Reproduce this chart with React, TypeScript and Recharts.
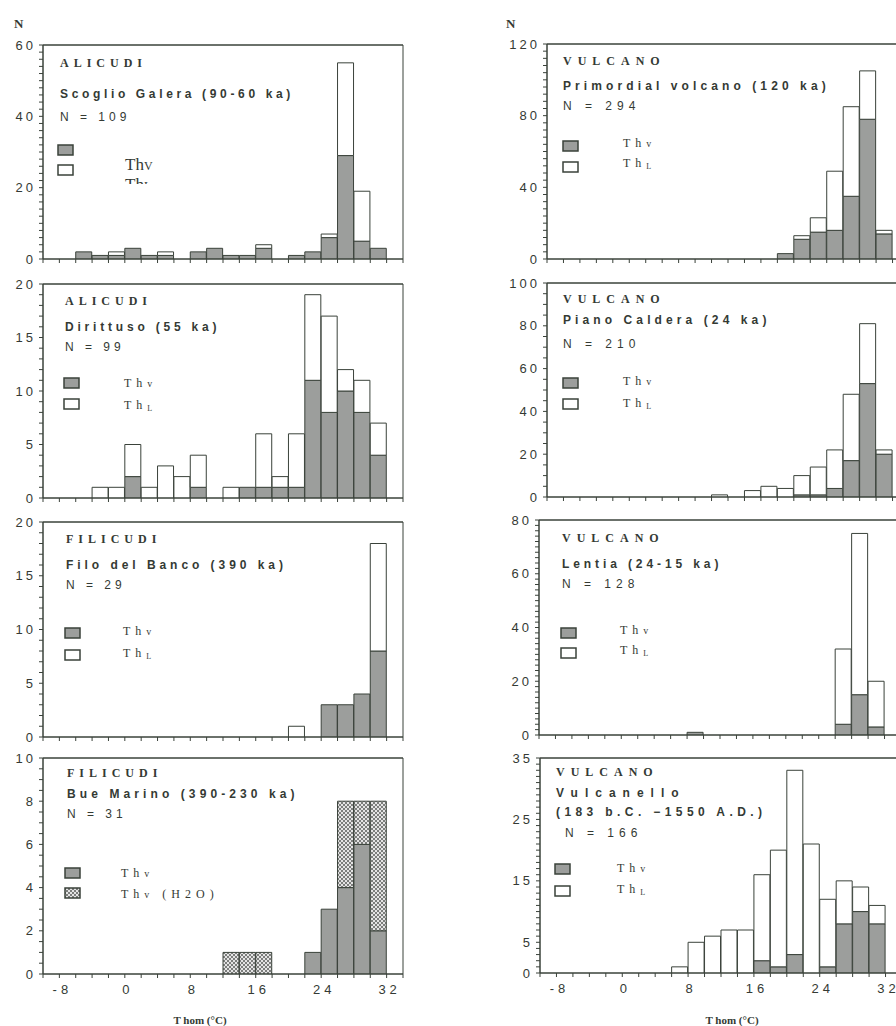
import React from "react";
import { BarChart, Bar, XAxis, YAxis, ReferenceArea } from "recharts";

// bin starts (°C), each bin is 2 °C wide
const bins = [-10, -8, -6, -4, -2, 0, 2, 4, 6, 8, 10, 12, 14, 16, 18, 20, 22, 24, 26, 28, 30, 32];

// ALICUDI - Scoglio Galera
const galeraThv = [0, 0, 2, 1, 1, 3, 1, 1, 0, 2, 3, 1, 1, 3, 0, 1, 2, 6, 29, 5, 3, 0];
const galeraThl = [0, 0, 0, 0, 1, 0, 0, 1, 0, 0, 0, 0, 0, 1, 0, 0, 0, 1, 26, 14, 0, 0];
// ALICUDI - Dirittuso
const dirittusoThv = [0, 0, 0, 0, 0, 2, 0, 0, 0, 1, 0, 0, 1, 1, 1, 1, 11, 8, 10, 8, 4, 0];
const dirittusoThl = [0, 0, 0, 1, 1, 3, 1, 3, 2, 3, 0, 1, 0, 5, 1, 5, 8, 9, 2, 3, 3, 0];
// FILICUDI - Filo del Banco
const filoThv = [0, 0, 0, 0, 0, 0, 0, 0, 0, 0, 0, 0, 0, 0, 0, 0, 0, 3, 3, 4, 8, 0];
const filoThl = [0, 0, 0, 0, 0, 0, 0, 0, 0, 0, 0, 0, 0, 0, 0, 1, 0, 0, 0, 0, 10, 0];
// FILICUDI - Bue Marino
const bueThv = [0, 0, 0, 0, 0, 0, 0, 0, 0, 0, 0, 0, 0, 0, 0, 0, 1, 3, 4, 6, 2, 0];
const bueH2o = [0, 0, 0, 0, 0, 0, 0, 0, 0, 0, 0, 1, 1, 1, 0, 0, 0, 0, 4, 2, 6, 0];
// VULCANO - Primordial volcano
const primThv = [0, 0, 0, 0, 0, 0, 0, 0, 0, 0, 0, 0, 0, 0, 3, 11, 15, 16, 35, 78, 14, 0];
const primThl = [0, 0, 0, 0, 0, 0, 0, 0, 0, 0, 0, 0, 0, 0, 0, 2, 8, 33, 50, 27, 2, 0];
// VULCANO - Piano Caldera
const pianoThv = [0, 0, 0, 0, 0, 0, 0, 0, 0, 0, 0, 0, 0, 0, 0, 1, 1, 4, 17, 53, 20, 0];
const pianoThl = [0, 0, 0, 0, 0, 0, 0, 0, 0, 0, 1, 0, 3, 5, 4, 9, 13, 18, 31, 28, 2, 0];
// VULCANO - Lentia
const lentiaThv = [0, 0, 0, 0, 0, 0, 0, 0, 0, 1, 0, 0, 0, 0, 0, 0, 0, 0, 4, 15, 3, 0];
const lentiaThl = [0, 0, 0, 0, 0, 0, 0, 0, 0, 0, 0, 0, 0, 0, 0, 0, 0, 0, 28, 60, 17, 0];
// VULCANO - Vulcanello
const vulcanelloThv = [0, 0, 0, 0, 0, 0, 0, 0, 0, 0, 0, 0, 0, 2, 1, 3, 0, 1, 8, 10, 8, 0];
const vulcanelloThl = [0, 0, 0, 0, 0, 0, 0, 0, 1, 5, 6, 7, 7, 14, 19, 30, 21, 11, 7, 4, 3, 0];

// tick labels
const xTickLabels = [-8, 0, 8, 16, 24, 32];
const yLabelsGalera = [0, 20, 40, 60];
const yLabels20 = [0, 5, 10, 15, 20];
const yLabelsBue = [0, 2, 4, 6, 8, 10];
const yLabelsPrim = [0, 40, 80, 120];
const yLabelsPiano = [0, 20, 40, 60, 80, 100];
const yLabelsLentia = [0, 20, 40, 60, 80];
const yLabelsVulcanello = [0, 5, 15, 25, 35];

const INK = "#3a423a";
const TXT = "#343a34";
const GRAY = "#9c9e9c";
const SERIF = "'Liberation Serif', 'Times New Roman', serif";
const SANS = "'Liberation Sans', Arial, sans-serif";

function steps(from: number, to: number, step: number) {
  const out: number[] = [];
  for (let v = from; v <= to + 1e-9; v += step) out.push(+v.toFixed(2));
  return out;
}

const xMinor = steps(-10, 34, 2);

function YTick(props: any) {
  const { x, y, payload, labels } = props;
  if (!labels.includes(payload.value)) return <g />;
  return (
    <text x={x + 1} y={y} dy={4.5} textAnchor="end" fontFamily={SANS} fontSize={13}
      fill={TXT} style={{ letterSpacing: 3 }}>
      {payload.value}
    </text>
  );
}

function XTick(props: any) {
  const { x, y, payload, labels } = props;
  if (!labels.includes(payload.value)) return <g />;
  return (
    <text x={x + 3} y={y} dy={11} textAnchor="middle" fontFamily={SANS} fontSize={13}
      fill={TXT} style={{ letterSpacing: 4 }}>
      {payload.value}
    </text>
  );
}

type PanelProps = {
  px: number; py: number; pw: number; ph: number;
  yMax: number; yStep: number; yLabels: number[];
  lower: number[]; upper: number[]; upperFill: string;
  showX: boolean;
};

function Panel(p: PanelProps) {
  const data = bins.map((b, i) => ({ bin: b, mid: b + 1, lower: p.lower[i], upper: p.upper[i] }));
  return (
    <div style={{ position: "absolute", left: p.px - 40, top: p.py - 10 }}>
      <BarChart width={40 + p.pw + 10} height={10 + p.ph + 30} data={data}
        margin={{ top: 5, right: 10, left: 0, bottom: 0 }} barCategoryGap={0} barGap={0}>
        <XAxis xAxisId="cat" dataKey="bin" type="category" hide height={0} />
        <XAxis xAxisId="num" dataKey="mid" type="number" domain={[-10, 34]} allowDataOverflow
          ticks={xMinor} interval={0} height={30} tickSize={4} tickMargin={5} stroke={INK}
          tick={<XTick labels={p.showX ? xTickLabels : []} />} />
        <XAxis xAxisId="top" dataKey="mid" orientation="top" type="number" domain={[-10, 34]}
          allowDataOverflow ticks={xMinor} interval={0} height={5} tick={false} tickSize={4}
          stroke={INK} />
        <YAxis type="number" domain={[0, p.yMax]} allowDataOverflow ticks={steps(0, p.yMax, p.yStep)}
          interval={0} width={40} tickSize={4} tickMargin={4} stroke={INK}
          tick={<YTick labels={p.yLabels} />} />
        <ReferenceArea xAxisId="num" x1={-10} x2={34} y1={0} y2={p.yMax}
          fill="none" stroke={INK} strokeWidth={1} ifOverflow="visible" />
        <Bar xAxisId="cat" dataKey="lower" stackId="s" fill={GRAY} stroke={INK} isAnimationActive={false} />
        <Bar xAxisId="cat" dataKey="upper" stackId="s" fill={p.upperFill} stroke={INK} isAnimationActive={false} />
      </BarChart>
    </div>
  );
}

function Title({ x, y, island, is = 5, lines, ls, n, nx, ns = 4 }: any) {
  return (
    <g fill={TXT}>
      <text x={x} y={y[0]} fontFamily={SERIF} fontWeight="bold" fontSize={12} style={{ letterSpacing: is }}>{island}</text>
      {lines.map((l: string, i: number) => (
        <text key={i} x={x} y={y[1 + i]} fontFamily={SANS} fontWeight="bold" fontSize={12} style={{ letterSpacing: ls[i] }}>{l}</text>
      ))}
      <text x={nx ?? x} y={y[y.length - 1]} fontFamily={SANS} fontSize={12} style={{ letterSpacing: ns }}>{n}</text>
    </g>
  );
}

function Key({ sx, d, l, tx, dy, ly, second }: any) {
  return (
    <g>
      <rect x={sx} y={d} width={15} height={10} fill={GRAY} stroke={INK} strokeWidth={1.5} />
      <rect x={sx} y={l} width={15} height={10} fill={second === "h2o" ? "url(#h2o)" : "#fff"} stroke={INK} strokeWidth={1.5} />
      <text x={tx} y={dy} fontFamily={SERIF} fontSize={12} fill={TXT} style={{ letterSpacing: 5 }}>
        Th<tspan fontSize={10}>v</tspan>
      </text>
      <text x={tx} y={ly} fontFamily={SERIF} fontSize={12} fill={TXT} style={{ letterSpacing: 5 }}>
        {second === "h2o" ? <>Th<tspan fontSize={10}>v</tspan> (H2O)</> : <>Th<tspan fontSize={8} dy={2}>L</tspan></>}
      </text>
    </g>
  );
}

export default function App() {
  return (
    <div style={{ position: "absolute", left: 0, top: 0, width: 896, height: 1026, overflow: "hidden", background: "#fff" }}>
      <Panel px={43} py={45} pw={360} ph={214} yMax={60} yStep={2} yLabels={yLabelsGalera}
        lower={galeraThv} upper={galeraThl} upperFill="#fff" showX={false} />
      <Panel px={43} py={284} pw={360} ph={214} yMax={20} yStep={1} yLabels={yLabels20}
        lower={dirittusoThv} upper={dirittusoThl} upperFill="#fff" showX={false} />
      <Panel px={43} py={522} pw={360} ph={215} yMax={20} yStep={1} yLabels={yLabels20}
        lower={filoThv} upper={filoThl} upperFill="#fff" showX={false} />
      <Panel px={43} py={758} pw={360} ph={216} yMax={10} yStep={0.5} yLabels={yLabelsBue}
        lower={bueThv} upper={bueH2o} upperFill="url(#h2o)" showX />
      <Panel px={547} py={44} pw={362} ph={215} yMax={120} yStep={4} yLabels={yLabelsPrim}
        lower={primThv} upper={primThl} upperFill="#fff" showX={false} />
      <Panel px={547} py={283} pw={362} ph={214} yMax={100} yStep={5} yLabels={yLabelsPiano}
        lower={pianoThv} upper={pianoThl} upperFill="#fff" showX={false} />
      <Panel px={539} py={520} pw={362} ph={215} yMax={80} yStep={2} yLabels={yLabelsLentia}
        lower={lentiaThv} upper={lentiaThl} upperFill="#fff" showX={false} />
      <Panel px={540} py={758} pw={362} ph={215} yMax={35} yStep={1} yLabels={yLabelsVulcanello}
        lower={vulcanelloThv} upper={vulcanelloThl} upperFill="#fff" showX />

      <svg width={896} height={1026} style={{ position: "absolute", left: 0, top: 0, pointerEvents: "none" }}>
        <defs>
          <pattern id="h2o" width={4} height={4} patternUnits="userSpaceOnUse">
            <rect width={4} height={4} fill="#e4e4e4" />
            <rect width={2} height={2} fill="#7c7e7c" />
            <rect x={2} y={2} width={2} height={2} fill="#7c7e7c" />
          </pattern>
          <clipPath id="cut">
            <rect x={100} y={170} width={80} height={14} />
          </clipPath>
        </defs>

        <text x={14} y={28} fontFamily={SERIF} fontWeight="bold" fontSize={13} fill={TXT}>N</text>
        <text x={506} y={28} fontFamily={SERIF} fontWeight="bold" fontSize={13} fill={TXT}>N</text>

        <Title x={60} y={[67, 98, 121]} island="ALICUDI" lines={["Scoglio Galera (90-60 ka)"]} ls={[3.65]} n="N = 109" />
        <rect x={58} y={145} width={15} height={10} fill={GRAY} stroke={INK} strokeWidth={1.5} />
        <rect x={58} y={165} width={15} height={10} fill="#fff" stroke={INK} strokeWidth={1.5} />
        <text x={125} y={170} fontFamily={SERIF} fontSize={17} fill={TXT}>Th<tspan fontSize={12}>V</tspan></text>
        <text x={125} y={190} fontFamily={SERIF} fontSize={17} fill={TXT} clipPath="url(#cut)">Th<tspan fontSize={12}>L</tspan></text>

        <Title x={65} y={[305, 331, 351]} island="ALICUDI" lines={["Dirittuso (55 ka)"]} ls={[3.8]} n="N = 99" />
        <Key sx={64} d={378} l={399} tx={124} dy={387} ly={409} />

        <Title x={66} y={[543, 569, 589]} island="FILICUDI" lines={["Filo del Banco (390 ka)"]} ls={[3.95]} n="N = 29" />
        <Key sx={65} d={628} l={650} tx={123} dy={635} ly={657} />

        <Title x={67} y={[777, 798, 818]} island="FILICUDI" lines={["Bue Marino (390-230 ka)"]} ls={[4.1]} n="N = 31" />
        <Key sx={65} d={868} l={888} tx={121} dy={877} ly={898} second="h2o" />

        <Title x={563} y={[65, 90, 110]} island="VULCANO" is={6} lines={["Primordial volcano (120 ka)"]} ls={[4.1]} n="N = 294" ns={5} />
        <Key sx={563} d={141} l={162} tx={623} dy={147} ly={167} />

        <Title x={563} y={[303, 324, 348]} island="VULCANO" is={6} lines={["Piano Caldera (24 ka)"]} ls={[4.1]} n="N = 210" ns={5} />
        <Key sx={563} d={378} l={399} tx={623} dy={385} ly={407} />

        <Title x={562} y={[542, 568, 588]} island="VULCANO" is={6} lines={["Lentia (24-15 ka)"]} ls={[3.9]} n="N = 128" ns={5} />
        <Key sx={561} d={628} l={648} tx={620} dy={634} ly={654} />

        <Title x={556} y={[776, 797, 816, 837]} island="VULCANO" is={6}
          lines={["Vulcanello", "(183 b.C. \u22121550 A.D.)"]} ls={[7, 4.4]} n="N = 166" nx={565} ns={5} />
        <Key sx={555} d={864} l={886} tx={617} dy={872} ly={893} />

        <text x={200} y={1024} textAnchor="middle" fontFamily={SERIF} fontWeight="bold" fontSize={11} fill={TXT}>T hom (°C)</text>
        <text x={732} y={1024} textAnchor="middle" fontFamily={SERIF} fontWeight="bold" fontSize={11} fill={TXT}>T hom (°C)</text>
      </svg>
    </div>
  );
}
